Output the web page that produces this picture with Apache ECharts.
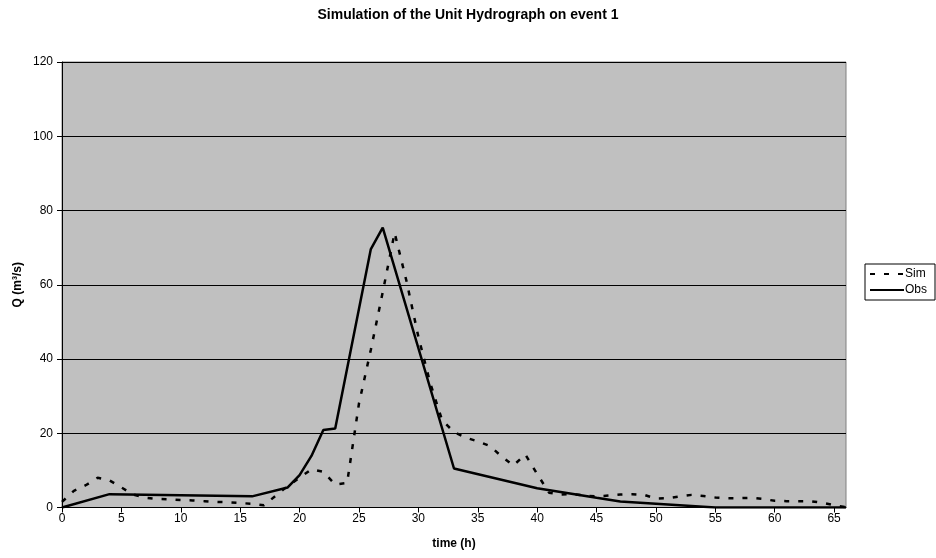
<!DOCTYPE html>
<html>
<head>
<meta charset="utf-8">
<script src="https://cdn.jsdelivr.net/npm/echarts@6/dist/echarts.min.js"></script>
<style>
  html, body { margin: 0; padding: 0; background: #fff; }
  #chart { width: 936px; height: 558px; }
</style>
</head>
<body>
<div id="chart"></div>
<script>
// Hydrograph of event 1: simulated (hourly) vs observed discharge
const titleText = 'Simulation of the Unit Hydrograph on event 1';
const xTickValues = [0, 5, 10, 15, 20, 25, 30, 35, 40, 45, 50, 55, 60, 65];
const yTickValues = [0, 20, 40, 60, 80, 100, 120];

// Simulated discharge, one value per hour from t = 0 h
const simHours = [
  0, 1, 2, 3, 4, 5, 6, 7, 8, 9, 10, 11, 12, 13, 14, 15, 16, 17, 18, 19, 20,
  21, 22, 23, 24, 25, 26, 27, 28, 29, 30, 31, 32, 33, 34, 35, 36, 37, 38, 39, 40,
  41, 42, 43, 44, 45, 46, 47, 48, 49, 50, 51, 52, 53, 54, 55, 56, 57, 58, 59, 60,
  61, 62, 63, 64, 65, 66
];
const simQ = [
  1.5, 4.5, 6.0, 8.0, 7.3, 5.4, 3.5, 2.6, 2.3, 2.2, 2.0, 1.9, 1.7, 1.5, 1.4, 1.2, 1.0, 0.6, 3.2, 5.8, 8.0,
  10.3, 9.6, 6.2, 6.6, 28.0, 42.5, 58.0, 74.0, 61.0, 46.0, 33.5, 23.5, 20.3, 18.8, 17.8, 16.6, 13.8, 11.3, 14.3, 9.0,
  4.0, 3.5, 3.6, 3.2, 3.0, 3.2, 3.5, 3.6, 3.4, 2.4, 2.5, 3.0, 3.4, 3.1, 2.7, 2.5, 2.5, 2.6, 2.3, 1.8,
  1.7, 1.7, 1.7, 1.3, 0.6, 0.1
];

// Observed discharge
const obsHours = [0, 4, 16, 19, 20, 21, 22, 23, 26, 27, 33, 40, 45, 47, 50, 55, 66];
const obsQ = [0, 3.6, 3.0, 5.4, 8.7, 13.9, 20.9, 21.3, 69.6, 75.4, 10.5, 5.2, 2.6, 1.6, 1.0, 0, 0];

const pairs = (xs, ys) => xs.map((x, i) => [x, ys[i]]);

const FONT = '"Liberation Sans", Arial, sans-serif';
const chart = echarts.init(document.getElementById('chart'), null, { renderer: 'canvas' });

chart.setOption({
  animation: false,
  backgroundColor: '#ffffff',
  textStyle: { fontFamily: FONT, color: '#000' },
  title: {
    text: titleText,
    left: 'center',
    top: 3,
    textStyle: { fontFamily: FONT, fontSize: 14, fontWeight: 'bold', color: '#000' }
  },
  legend: {
    orient: 'vertical',
    left: 865,
    top: 264,
    padding: [4, 8, 4, 4],
    itemGap: 4,
    itemWidth: 34,
    itemHeight: 12,
    backgroundColor: '#ffffff',
    borderColor: '#000000',
    borderWidth: 1,
    borderRadius: 0,
    itemStyle: { opacity: 0 },
    textStyle: { fontFamily: FONT, fontSize: 12, color: '#000', padding: [0, 0, 0, -4] },
    data: ['Sim', 'Obs']
  },
  grid: {
    left: 62,
    right: 90,
    top: 62,
    bottom: 50.5,
    outerBoundsMode: 'none',
    containLabel: false,
    show: true,
    backgroundColor: '#c0c0c0',
    borderColor: '#808080',
    borderWidth: 1
  },
  xAxis: {
    type: 'value',
    min: 0,
    max: 66,
    interval: 5,
    name: 'time (h)',
    nameLocation: 'middle',
    nameGap: 30,
    nameMoveOverlap: false,
    nameTextStyle: { fontFamily: FONT, fontSize: 12, fontWeight: 'bold', color: '#000' },
    axisLine: { show: true, onZero: false, lineStyle: { color: '#000', width: 1 } },
    axisTick: { show: true, length: 5, customValues: xTickValues, lineStyle: { color: '#000' } },
    axisLabel: {
      customValues: xTickValues,
      fontFamily: FONT, fontSize: 12, color: '#000', margin: 5
    },
    splitLine: { show: false }
  },
  yAxis: {
    type: 'value',
    min: 0,
    max: 120,
    interval: 20,
    name: 'Q (m³/s)',
    nameLocation: 'middle',
    nameGap: 38,
    nameMoveOverlap: false,
    nameRotate: 90,
    nameTextStyle: { fontFamily: FONT, fontSize: 12, fontWeight: 'bold', color: '#000' },
    axisLine: { show: true, lineStyle: { color: '#000', width: 1 } },
    axisTick: { show: true, length: 5, lineStyle: { color: '#000' } },
    axisLabel: {
      fontFamily: FONT, fontSize: 12, color: '#000', margin: 9,
      customValues: yTickValues
    },
    splitLine: { show: true, lineStyle: { color: '#000', width: 1 } }
  },
  series: [
    {
      name: 'Sim',
      type: 'line',
      data: pairs(simHours, simQ),
      showSymbol: false,
      symbol: 'none',
      lineStyle: { color: '#000', width: 2.5, type: [5, 9] },
      itemStyle: { color: '#000' },
      z: 3
    },
    {
      name: 'Obs',
      type: 'line',
      data: pairs(obsHours, obsQ),
      showSymbol: false,
      symbol: 'none',
      lineStyle: { color: '#000', width: 2.5, type: 'solid' },
      itemStyle: { color: '#000' },
      z: 4
    }
  ]
});
</script>
</body>
</html>
